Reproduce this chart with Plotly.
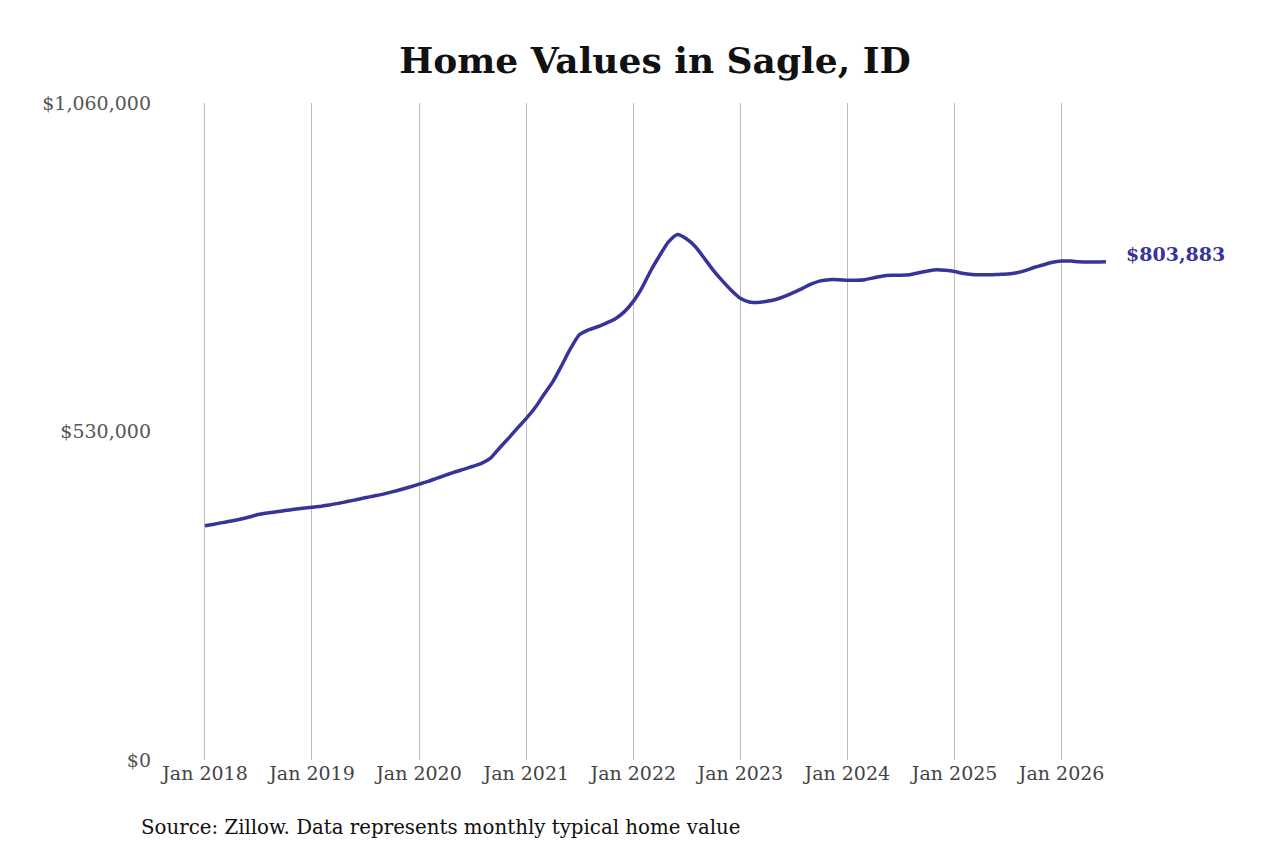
import pandas as pd
import plotly.graph_objects as go

# monthly typical home value, Jan 2018 - Jun 2026
dates = pd.date_range("2018-01-01", "2026-06-01", freq="MS")
values_2018 = [378000, 380500, 383000, 385500, 388500, 392000, 396000, 398500, 400500, 402500, 404500, 406000]
values_2019 = [407700, 409500, 411500, 414000, 417000, 420000, 423000, 426000, 429000, 432500, 436500, 440500]
values_2020 = [445000, 449500, 454500, 459500, 464500, 469000, 473500, 478500, 487000, 503000, 519000, 535000]
values_2021 = [551000, 569000, 589000, 610000, 636000, 664000, 686000, 694000, 699000, 705000, 712000, 723000]
values_2022 = [740000, 763000, 789000, 814000, 836000, 848000, 841000, 828000, 809000, 790000, 773000, 758000]
values_2023 = [745000, 739000, 738000, 740000, 743000, 748000, 754000, 761000, 768000, 773000, 775000, 775000]
values_2024 = [774000, 774000, 775000, 778000, 781000, 782000, 782000, 783000, 786000, 789000, 791000, 790000]
values_2025 = [788000, 785000, 783500, 783000, 783000, 783500, 784000, 786000, 790000, 795000, 799000, 803000]
values_2026 = [805000, 805000, 804000, 803500, 803500, 803883]

values = (values_2018 + values_2019 + values_2020 + values_2021 + values_2022
          + values_2023 + values_2024 + values_2025 + values_2026)

y_ticks = [0, 530000, 1060000]
y_tick_labels = ["$0", "$530,000", "$1,060,000"]
x_ticks = pd.date_range("2018-01-01", "2026-01-01", freq="YS")
x_tick_labels = ["Jan " + str(d.year) for d in x_ticks]

line_color = "#38339a"
font_family = "DejaVu Serif, serif"

fig = go.Figure()
fig.add_trace(go.Scatter(
    x=dates, y=values, mode="lines",
    line=dict(color=line_color, width=3.5, shape="spline", smoothing=0.6),
    hoverinfo="skip", showlegend=False,
))

# label for the latest value
fig.add_annotation(
    x=dates[-1], y=values[-1], text="<b>$" + f"{values[-1]:,}" + "</b>",
    showarrow=False, xanchor="left", xshift=18, yshift=8,
    font=dict(family=font_family, size=19, color=line_color),
)

# source note
fig.add_annotation(
    x=-0.0672, y=-0.1035, xref="paper", yref="paper",
    text="Source: Zillow. Data represents monthly typical home value",
    showarrow=False, xanchor="left", yanchor="middle",
    font=dict(family=font_family, size=19.8, color="#111111"),
)

fig.update_layout(
    width=1272, height=845,
    paper_bgcolor="white", plot_bgcolor="white",
    margin=dict(l=192, r=170, t=95, b=93),
    title=dict(
        text="<b>Home Values in Sagle, ID</b>", x=0.5, xref="paper", y=0.9385, yanchor="middle",
        font=dict(family=font_family, size=36, color="#111111"),
    ),
    font=dict(family=font_family),
)

fig.update_xaxes(
    range=["2017-12-15", "2026-06-15"],
    tickvals=x_ticks, ticktext=x_tick_labels,
    showgrid=True, gridcolor="#bdbdbd", gridwidth=1,
    zeroline=False, showline=False, ticks="",
    tickfont=dict(family=font_family, size=19, color="#444444"),
)
fig.update_yaxes(
    range=[0, 1060000],
    tickvals=y_ticks, ticktext=y_tick_labels,
    showgrid=False, zeroline=False, showline=False, ticks="",
    ticklabelstandoff=48,
    tickfont=dict(family=font_family, size=19, color="#555555"),
)

fig.write_html("out.html")
